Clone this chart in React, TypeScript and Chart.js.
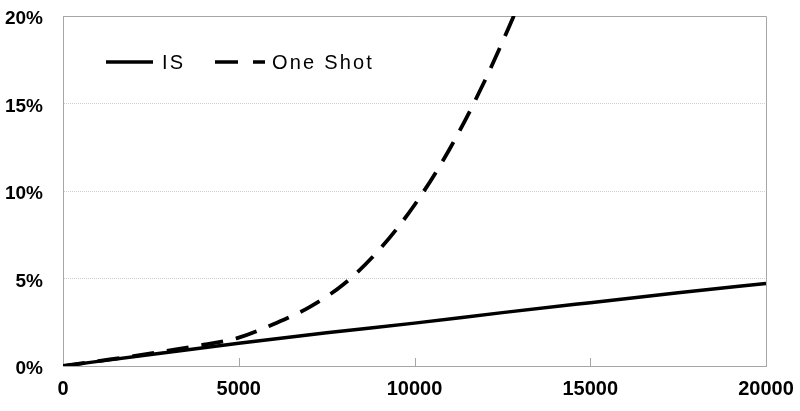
import React, { useEffect, useRef } from 'react';
import { Chart, registerables } from 'chart.js';

Chart.register(...registerables);

const seriesNames = ['IS', 'One Shot'];
const isX = [0, 2500, 5000, 7500, 10000, 12500, 15000, 17500, 20000];
const isY = [0, 0.66, 1.3, 1.9, 2.45, 3.05, 3.62, 4.18, 4.72];
const oneShotX = [0, 1000, 2000, 3000, 4000, 5000, 6000, 7000, 8000, 9000, 10000, 11000, 12000, 13000];
const oneShotY = [0, 0.28, 0.56, 0.88, 1.22, 1.62, 2.4, 3.35, 4.7, 6.65, 9.2, 12.4, 16.3, 20.8];
const xMin = 0;
const xMax = 20000;
const xStep = 5000;
const yMin = 0;
const yMax = 20;
const yStep = 5;

const FONT = '"Liberation Sans", Arial, sans-serif';
const AXIS_GRAY = '#a6a6a6';

const framePlugin = {
  id: 'frame',
  beforeDatasetsDraw(chart: any) {
    const { ctx, chartArea } = chart;
    const xs = chart.scales.x;
    ctx.save();
    ctx.strokeStyle = AXIS_GRAY;
    ctx.lineWidth = 1;
    ctx.beginPath();
    ctx.moveTo(chartArea.left, chartArea.top + 0.5);
    ctx.lineTo(chartArea.right + 0.5, chartArea.top + 0.5);
    ctx.lineTo(chartArea.right + 0.5, chartArea.bottom);
    ctx.stroke();
    xs.ticks.forEach((t: any) => {
      if (t.value <= xMin || t.value >= xMax) return;
      const px = Math.round(xs.getPixelForValue(t.value)) + 0.5;
      ctx.beginPath();
      ctx.moveTo(px, chartArea.bottom);
      ctx.lineTo(px, chartArea.bottom - 8);
      ctx.stroke();
    });
    ctx.restore();
  },
};

const legendPlugin = {
  id: 'insideLegend',
  afterDraw(chart: any) {
    const { ctx } = chart;
    const y = 62;
    const items = [
      { x0: 106, x1: 153, tx: 162 },
      { x0: 215, x1: 265, tx: 272 },
    ];
    ctx.save();
    chart.data.datasets.forEach((ds: any, i: number) => {
      const it = items[i];
      ctx.strokeStyle = ds.borderColor;
      ctx.lineWidth = 3.5;
      ctx.setLineDash(ds.borderDash ? [23, 15] : []);
      ctx.beginPath();
      ctx.moveTo(it.x0, y);
      ctx.lineTo(it.x1, y);
      ctx.stroke();
      ctx.setLineDash([]);
      ctx.fillStyle = '#000';
      ctx.font = `20px ${FONT}`;
      (ctx as any).letterSpacing = '2.2px';
      ctx.textBaseline = 'middle';
      ctx.textAlign = 'left';
      ctx.fillText(ds.label, it.tx, y + 1);
      (ctx as any).letterSpacing = '0px';
    });
    ctx.restore();
  },
};

export default function App() {
  const ref = useRef<HTMLCanvasElement | null>(null);

  useEffect(() => {
    if (!ref.current) return;
    const chart = new Chart(ref.current, {
      type: 'line',
      data: {
        datasets: [
          {
            label: seriesNames[0],
            data: isX.map((x, i) => ({ x, y: isY[i] })),
            borderColor: '#000',
            borderWidth: 3.5,
            pointRadius: 0,
            cubicInterpolationMode: 'monotone',
            fill: false,
          },
          {
            label: seriesNames[1],
            data: oneShotX.map((x, i) => ({ x, y: oneShotY[i] })),
            borderColor: '#000',
            borderWidth: 3.8,
            borderDash: [22, 13],
            pointRadius: 0,
            cubicInterpolationMode: 'monotone',
            fill: false,
          },
        ],
      },
      plugins: [framePlugin, legendPlugin],
      options: {
        animation: false,
        responsive: false,
        layout: { padding: { top: 16, right: 34, left: 0, bottom: 0 } },
        plugins: {
          legend: { display: false },
          tooltip: { enabled: false },
        },
        scales: {
          x: {
            type: 'linear',
            min: xMin,
            max: xMax,
            afterFit: (s: any) => {
              s.height = 45;
              s.paddingLeft = 0;
              s.paddingRight = 0;
            },
            ticks: {
              stepSize: xStep,
              color: '#000',
              padding: 11,
              maxRotation: 0,
              font: { family: FONT, size: 20, weight: 'bold' },
              callback: (v: any) => String(v),
            },
            grid: { display: true, drawOnChartArea: false, drawTicks: false },
            border: { display: true, color: AXIS_GRAY, width: 1 },
          },
          y: {
            type: 'linear',
            min: yMin,
            max: yMax,
            afterFit: (s: any) => {
              s.width = 63;
              s.paddingTop = 0;
              s.paddingBottom = 0;
            },
            ticks: {
              stepSize: yStep,
              color: '#000',
              padding: 20,
              labelOffset: 3,
              font: { family: FONT, size: 19, weight: 'bold' },
              callback: (v: any) => `${v}%`,
            },
            grid: { color: '#cfcfcf', lineWidth: 1, drawTicks: false },
            border: { display: true, color: AXIS_GRAY, width: 1, dash: [1, 1] },
          },
        },
      },
    } as any);
    return () => chart.destroy();
  }, []);

  return (
    <div style={{ position: 'fixed', left: 0, top: 0, width: 800, height: 411, background: '#fff' }}>
      <canvas ref={ref} width={800} height={411} style={{ display: 'block' }} />
    </div>
  );
}
